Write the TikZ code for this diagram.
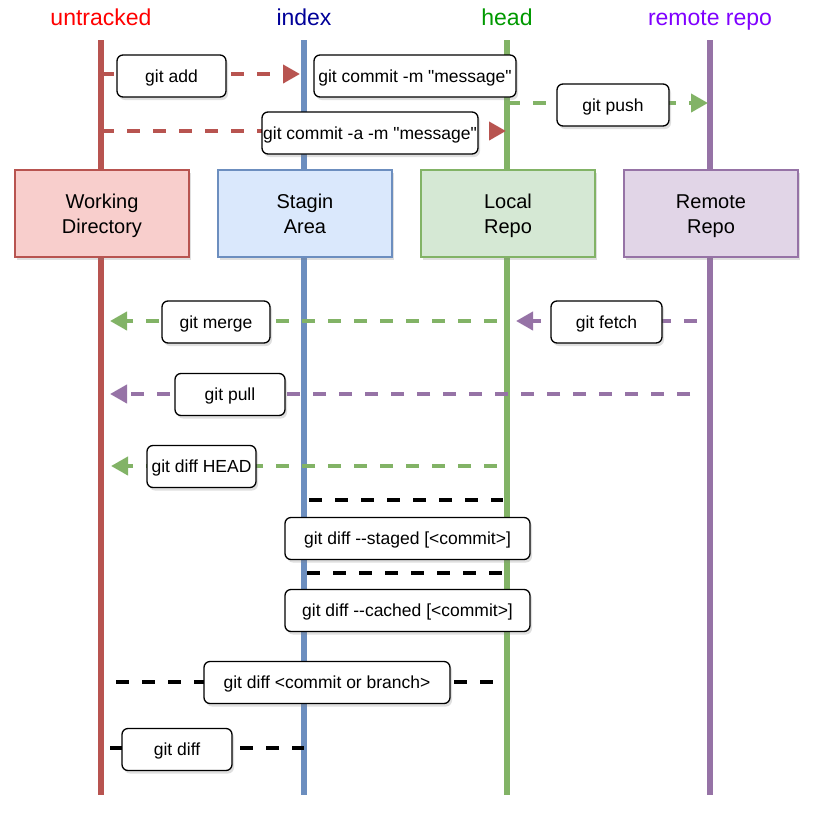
\documentclass[tikz,border=0pt]{standalone}
\usepackage{fontspec}
\setmainfont{Liberation Sans}[Ligatures=TeXOff]
\usetikzlibrary{arrows.meta,shadows}
\definecolor{redc}{HTML}{B85450}
\definecolor{redf}{HTML}{F8CECC}
\definecolor{bluec}{HTML}{6C8EBF}
\definecolor{bluef}{HTML}{DAE8FC}
\definecolor{greenc}{HTML}{82B366}
\definecolor{greenf}{HTML}{D5E8D4}
\definecolor{purc}{HTML}{9673A6}
\definecolor{purf}{HTML}{E1D5E7}
\definecolor{hred}{HTML}{FF0000}
\definecolor{hblue}{HTML}{000099}
\definecolor{hgreen}{HTML}{009900}
\definecolor{hpur}{HTML}{7F00FF}
\begin{document}
\begin{tikzpicture}[x=1pt,y=-1pt,
  vline/.style={line width=5.5pt},
  lbl/.style={draw=black, line width=1.3pt, fill=white, rounded corners=6pt,
    minimum height=42pt, inner sep=0pt, text height=13pt, text depth=1pt,
    font=\fontsize{17.5}{21}\selectfont,
    drop shadow={shadow xshift=2pt,shadow yshift=-3pt,opacity=0.25}},
  bignode/.style={line width=1.3pt, minimum width=174pt, minimum height=87pt,
    inner sep=0pt,
    drop shadow={shadow xshift=2pt,shadow yshift=-3pt,opacity=0.25}},
  bigtext/.style={inner sep=0pt, anchor=base, font=\fontsize{20}{25}\selectfont},
  hdr/.style={font=\fontsize{23}{27}\selectfont, inner sep=0pt, anchor=base},
  dsh/.style={line width=4pt, dash pattern=on 13pt off 13pt},
  tip/.style={-{Triangle[length=17pt,width=18pt]}}
]
\useasboundingbox (0,0) rectangle (817,812);

% headers
\node[hdr, text=hred]   (hU) at (101,25) {untracked};
\node[hdr, text=hblue]  (hI) at (304,25) {index};
\node[hdr, text=hgreen] (hH) at (507,25) {head};
\node[hdr, text=hpur]   (hR) at (710,25) {remote repo};

% lifelines
\coordinate (rT) at (101,40);  \coordinate (rB) at (101,795);
\coordinate (bT) at (304,40);  \coordinate (bB) at (304,795);
\coordinate (gT) at (507,40);  \coordinate (gB) at (507,795);
\coordinate (pT) at (710,40);  \coordinate (pB) at (710,795);
\draw[vline, redc] (rT) -- (rB);
\draw[vline, bluec] (bT) -- (bB);
\draw[vline, greenc] (gT) -- (gB);
\draw[vline, purc] (pT) -- (pB);

% connector end points
\coordinate (addS) at (101,74);   \coordinate (addE) at (300,74);
\coordinate (caS) at (101,131);   \coordinate (caE) at (506,131);
\coordinate (pushS) at (507,103); \coordinate (pushE) at (708,103);
\coordinate (mrgS) at (497,321);  \coordinate (mrgE) at (110,321);
\coordinate (fetS) at (697,321);  \coordinate (fetE) at (516,321);
\coordinate (pulS) at (690,394);  \coordinate (pulE) at (110,394);
\coordinate (dhS) at (497,466);   \coordinate (dhE) at (111,466);
\coordinate (k1S) at (309,500);   \coordinate (k1E) at (503,500);
\coordinate (k2S) at (307,573);   \coordinate (k2E) at (502,573);
\coordinate (k3S) at (116,682);   \coordinate (k3E) at (495,682);
\coordinate (k4S) at (110,748);   \coordinate (k4E) at (304,748);

\draw[dsh, redc, tip] (addS) -- (addE);
\draw[dsh, redc, tip] (caS) -- (caE);
\draw[dsh, greenc, tip] (pushS) -- (pushE);
\draw[dsh, greenc, tip] (mrgS) -- (mrgE);
\draw[dsh, purc, tip] (fetS) -- (fetE);
\draw[dsh, purc, tip] (pulS) -- (pulE);
\draw[dsh, greenc, tip] (dhS) -- (dhE);
\draw[dsh, black] (k1S) -- (k1E);
\draw[dsh, black] (k2S) -- (k2E);
\draw[dsh, black] (k3S) -- (k3E);
\draw[dsh, black] (k4S) -- (k4E);

% main boxes
\node[bignode, draw=redc, fill=redf]     (wd) at (102,213.5) {};
\node[bignode, draw=bluec, fill=bluef]   (sa) at (305,213.5) {};
\node[bignode, draw=greenc, fill=greenf] (lr) at (508,213.5) {};
\node[bignode, draw=purc, fill=purf]     (rr) at (711,213.5) {};
\node[bigtext] (wdT1) at (102,208) {Working};
\node[bigtext] (wdT2) at (102,233) {Directory};
\node[bigtext] (saT1) at (305,208) {Stagin};
\node[bigtext] (saT2) at (305,233) {Area};
\node[bigtext] (lrT1) at (508,208) {Local};
\node[bigtext] (lrT2) at (508,233) {Repo};
\node[bigtext] (rrT1) at (711,208) {Remote};
\node[bigtext] (rrT2) at (711,233) {Repo};

% labels
\node[lbl, minimum width=109pt] (lAdd) at (171.5,76) {git add};
\node[lbl, minimum width=202pt] (lCm) at (415,76) {git commit -m "message"};
\node[lbl, minimum width=112pt] (lPush) at (613,105) {git push};
\node[lbl, minimum width=216pt] (lCa) at (370,133) {git commit -a -m "message"};
\node[lbl, minimum width=108pt] (lMrg) at (216,322) {git merge};
\node[lbl, minimum width=111pt] (lFet) at (606.5,322) {git fetch};
\node[lbl, minimum width=110pt] (lPul) at (230,394.5) {git pull};
\node[lbl, minimum width=109pt] (lDh) at (201.5,466.5) {git diff HEAD};
\node[lbl, minimum width=245pt] (lSt) at (407.5,538.5) {git diff --staged [<commit>]};
\node[lbl, minimum width=245pt] (lCc) at (407.5,610.5) {git diff --cached [<commit>]};
\node[lbl, minimum width=246pt] (lCb) at (327,682.5) {git diff <commit or branch>};
\node[lbl, minimum width=110pt] (lGd) at (177,749.5) {git diff};
\end{tikzpicture}
\end{document}
